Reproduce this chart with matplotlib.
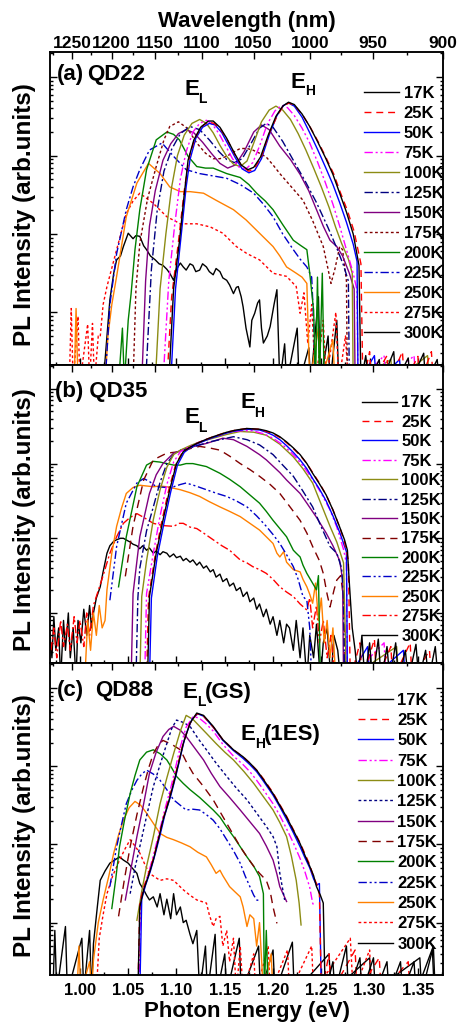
import numpy as np
import matplotlib
matplotlib.use("Agg")
import matplotlib.pyplot as plt
from matplotlib.ticker import MultipleLocator, LogLocator, NullFormatter

plt.rcParams["font.family"] = ["Liberation Sans", "DejaVu Sans"]
plt.rcParams["font.weight"] = "bold"

# temperatures (legend order) and their colours
temps = ["17K", "25K", "50K", "75K", "100K", "125K", "150K", "175K",
         "200K", "225K", "250K", "275K", "300K"]
colors = ["#000000", "#ff0000", "#0000ff", "#ff00ff", "#8c8c14", "#000080",
          "#800080", "#800000", "#008000", "#0000c8", "#ff8000", "#ff0000",
          "#000000"]

# spectra: (photon energy eV, log10 PL intensity)
qd22_spectra = [
    # 17K
    [(1.092, -0.9), (1.097, 0.3), (1.103, 0.9), (1.108, 1.5), (1.112, 1.94), (1.118, 2.2), (1.125, 2.36),
     (1.133, 2.44), (1.138, 2.44), (1.145, 2.36), (1.152, 2.22), (1.160, 2.03), (1.167, 1.88), (1.174, 1.82),
     (1.180, 1.85), (1.187, 1.98), (1.195, 2.26), (1.203, 2.50), (1.210, 2.63), (1.216, 2.68), (1.222, 2.65),
     (1.230, 2.53), (1.238, 2.37), (1.246, 2.18), (1.254, 1.98), (1.262, 1.76), (1.269, 1.52), (1.276, 1.28),
     (1.283, 1.0), (1.289, 0.6), (1.291, -0.9), (1.296, -0.55), (1.299, -0.9), (1.310, -0.6), (1.312, -0.9),
     (1.325, -0.5), (1.327, -0.9), (1.340, -0.58), (1.342, -0.9), (1.356, -0.52), (1.358, -0.9),
     (1.370, -0.6), (1.372, -0.9)],
    # 25K
    [(1.090, -0.9), (1.095, 0.2), (1.102, 0.9), (1.108, 1.55), (1.113, 1.97), (1.119, 2.22), (1.126, 2.37),
     (1.133, 2.43), (1.139, 2.41), (1.146, 2.33), (1.153, 2.19), (1.161, 2.0), (1.168, 1.86), (1.175, 1.80),
     (1.181, 1.84), (1.188, 1.99), (1.196, 2.28), (1.204, 2.50), (1.211, 2.64), (1.217, 2.67), (1.223, 2.63),
     (1.231, 2.51), (1.239, 2.35), (1.247, 2.17), (1.255, 1.97), (1.263, 1.76), (1.270, 1.52), (1.277, 1.3),
     (1.284, 1.03), (1.291, 0.62), (1.293, -0.9), (1.300, -0.5), (1.302, -0.9), (1.318, -0.55), (1.320, -0.9),
     (1.334, -0.5), (1.336, -0.9), (1.350, -0.56), (1.352, -0.9), (1.364, -0.5), (1.366, -0.9)],
    # 50K
    [(1.094, -0.9), (1.099, 0.3), (1.105, 1.0), (1.110, 1.6), (1.114, 1.95), (1.120, 2.22), (1.127, 2.36),
     (1.134, 2.41), (1.140, 2.39), (1.147, 2.29), (1.154, 2.13), (1.161, 1.97), (1.168, 1.83), (1.175, 1.78),
     (1.181, 1.81), (1.188, 1.96), (1.196, 2.26), (1.204, 2.51), (1.211, 2.64), (1.216, 2.67), (1.222, 2.63),
     (1.230, 2.49), (1.238, 2.29), (1.246, 2.08), (1.254, 1.86), (1.262, 1.63), (1.269, 1.40), (1.276, 1.15),
     (1.283, 0.87), (1.287, 0.65), (1.288, -0.9), (1.305, -0.55), (1.307, -0.9), (1.331, -0.6), (1.333, -0.9)],
    # 75K
    [(1.086, -0.9), (1.092, 0.4), (1.098, 1.1), (1.104, 1.7), (1.110, 2.05), (1.117, 2.3), (1.124, 2.41),
     (1.131, 2.45), (1.137, 2.40), (1.144, 2.28), (1.151, 2.12), (1.158, 1.96), (1.165, 1.85), (1.172, 1.83),
     (1.179, 1.91), (1.186, 2.12), (1.194, 2.40), (1.202, 2.57), (1.209, 2.64), (1.215, 2.61), (1.222, 2.51),
     (1.230, 2.35), (1.238, 2.16), (1.246, 1.92), (1.254, 1.66), (1.262, 1.38), (1.269, 1.1), (1.276, 0.8),
     (1.283, 0.5), (1.287, 0.28), (1.288, -0.9), (1.315, -0.55), (1.317, -0.9), (1.346, -0.55), (1.348, -0.9)],
    # 100K
    [(1.078, -0.9), (1.083, 0.3), (1.089, 1.0), (1.095, 1.6), (1.101, 2.0), (1.108, 2.26), (1.116, 2.41),
     (1.124, 2.46), (1.131, 2.41), (1.138, 2.29), (1.145, 2.13), (1.152, 1.99), (1.159, 1.89), (1.166, 1.86),
     (1.173, 1.93), (1.180, 2.16), (1.188, 2.43), (1.196, 2.58), (1.203, 2.63), (1.210, 2.58), (1.218, 2.46),
     (1.226, 2.28), (1.234, 2.07), (1.242, 1.84), (1.250, 1.6), (1.258, 1.34), (1.265, 1.08), (1.271, 0.88),
     (1.278, 0.68), (1.282, 0.5), (1.283, -0.9), (1.322, -0.6), (1.324, -0.9), (1.360, -0.55), (1.362, -0.9)],
    # 125K
    [(1.068, -0.9), (1.074, 0.55), (1.080, 1.3), (1.087, 1.8), (1.095, 2.08), (1.104, 2.28), (1.114, 2.37),
     (1.124, 2.33), (1.134, 2.2), (1.144, 2.05), (1.152, 1.95), (1.160, 1.91), (1.168, 1.96), (1.177, 2.15),
     (1.186, 2.35), (1.193, 2.41), (1.200, 2.36), (1.210, 2.18), (1.221, 1.94), (1.233, 1.68), (1.245, 1.40),
     (1.257, 1.08), (1.266, 0.82), (1.273, 0.6), (1.278, 0.4), (1.279, -0.9)],
    # 150K
    [(1.064, -0.9), (1.068, 0.4), (1.072, 1.1), (1.078, 1.55), (1.086, 1.94), (1.094, 2.15), (1.102, 2.28),
     (1.110, 2.33), (1.118, 2.29), (1.127, 2.17), (1.136, 2.03), (1.145, 1.9), (1.153, 1.84), (1.161, 1.88),
     (1.170, 2.05), (1.180, 2.3), (1.188, 2.39), (1.196, 2.33), (1.207, 2.12), (1.218, 1.95), (1.228, 1.76),
     (1.237, 1.55), (1.245, 1.31), (1.252, 1.1), (1.259, 0.92), (1.266, 0.84), (1.272, 0.72), (1.279, 0.5),
     (1.284, 0.3), (1.285, -0.9)],
    # 175K
    [(1.055, -0.9), (1.058, 0.3), (1.062, 0.88), (1.070, 1.45), (1.079, 1.86), (1.087, 2.2), (1.093, 2.37),
     (1.102, 2.43), (1.111, 2.35), (1.121, 2.16), (1.130, 2.03), (1.138, 1.96), (1.145, 1.96), (1.152, 1.99),
     (1.160, 2.05), (1.166, 2.09), (1.173, 2.09), (1.179, 2.07), (1.186, 2.03), (1.193, 1.98), (1.200, 1.88),
     (1.207, 1.77), (1.219, 1.6), (1.231, 1.43), (1.241, 1.17), (1.252, 0.84), (1.257, 0.55), (1.260, 0.37),
     (1.264, 0.55), (1.269, 0.84), (1.272, 0.8), (1.276, 0.4), (1.277, -0.9)],
    # 200K
    [(1.040, -0.9), (1.044, -0.2), (1.046, -0.9), (1.050, -0.1), (1.053, 0.24), (1.057, 0.8), (1.062, 1.31),
     (1.069, 1.82), (1.079, 2.2), (1.090, 2.30), (1.097, 2.27), (1.103, 2.2), (1.112, 1.99), (1.121, 1.86),
     (1.130, 1.84), (1.138, 1.84), (1.152, 1.77), (1.166, 1.72), (1.175, 1.63), (1.183, 1.52), (1.192, 1.42),
     (1.200, 1.31), (1.210, 1.12), (1.221, 0.92), (1.229, 0.85), (1.235, 0.80), (1.238, 0.5), (1.242, 0.03),
     (1.244, -0.9), (1.246, 0.45), (1.248, -0.9), (1.251, 0.5), (1.253, -0.9)],
    # 225K
    [(1.026, -0.9), (1.031, 0.1), (1.038, 0.75), (1.048, 1.31), (1.055, 1.6), (1.062, 1.82), (1.072, 2.07),
     (1.085, 2.16), (1.097, 1.99), (1.110, 1.82), (1.124, 1.77), (1.138, 1.74), (1.152, 1.71), (1.166, 1.63),
     (1.180, 1.52), (1.190, 1.38), (1.200, 1.22), (1.210, 1.0), (1.221, 0.8), (1.228, 0.68), (1.235, 0.58),
     (1.240, 0.45), (1.242, -0.1), (1.244, -0.9)],
    # 250K
    [(0.994, -0.9), (0.996, 0.05), (0.998, -0.9), (1.026, -0.9), (1.029, -0.3), (1.033, 0.1), (1.038, 0.46),
     (1.048, 1.22), (1.059, 1.65), (1.071, 1.9), (1.083, 1.77), (1.093, 1.60), (1.104, 1.54), (1.114, 1.54),
     (1.128, 1.52), (1.141, 1.43), (1.159, 1.31), (1.172, 1.18), (1.186, 1.01), (1.200, 0.84), (1.207, 0.72),
     (1.214, 0.58), (1.224, 0.50), (1.230, 0.45), (1.235, 0.37), (1.238, -0.9), (1.247, -0.2), (1.249, -0.9),
     (1.262, -0.35), (1.264, -0.9)],
    # 275K
    [(0.989, -0.9), (0.991, 0.05), (0.993, -0.9), (0.998, -0.05), (1.000, -0.9), (1.008, -0.15), (1.010, -0.9),
     (1.013, -0.14), (1.015, -0.9), (1.019, -0.3), (1.021, -0.31), (1.024, 0.1), (1.028, 0.33), (1.038, 0.8),
     (1.048, 1.26), (1.055, 1.42), (1.062, 1.52), (1.076, 1.39), (1.090, 1.22), (1.104, 1.13), (1.121, 1.13),
     (1.135, 1.09), (1.148, 1.01), (1.162, 0.84), (1.173, 0.75), (1.186, 0.67), (1.200, 0.5), (1.214, 0.46),
     (1.224, 0.33), (1.228, -0.01), (1.232, 0.25), (1.236, -0.4), (1.240, 0.1), (1.244, -0.9), (1.252, -0.1),
     (1.255, -0.9), (1.265, 0.0), (1.268, -0.9), (1.275, -0.3), (1.278, -0.9)],
    # 300K
    [(1.024, -0.9), (1.026, -0.61), (1.031, 0.16), (1.035, 0.5), (1.038, 0.67), (1.042, 0.72), (1.045, 0.84),
     (1.050, 1.01), (1.055, 0.94), (1.058, 0.98), (1.062, 0.97), (1.066, 0.85), (1.069, 0.8), (1.073, 0.72),
     (1.078, 0.67), (1.082, 0.62), (1.086, 0.6), (1.090, 0.55), (1.093, 0.5), (1.097, 0.41), (1.100, 0.55),
     (1.104, 0.63), (1.107, 0.58), (1.110, 0.54), (1.114, 0.62), (1.117, 0.6), (1.120, 0.52), (1.124, 0.54),
     (1.127, 0.62), (1.131, 0.58), (1.134, 0.52), (1.138, 0.48), (1.141, 0.56), (1.145, 0.52), (1.148, 0.44),
     (1.152, 0.41), (1.155, 0.35), (1.159, 0.24), (1.162, 0.32), (1.164, 0.33), (1.167, 0.2), (1.169, 0.07),
     (1.172, -0.2), (1.176, -0.44), (1.178, -0.1), (1.181, -0.01), (1.184, 0.12), (1.186, 0.16), (1.188, -0.2),
     (1.190, -0.39), (1.194, -0.3), (1.197, -0.18), (1.201, 0.1), (1.204, 0.29), (1.207, -0.9), (1.212, -0.4),
     (1.214, -0.9), (1.225, -0.2), (1.227, -0.9), (1.237, -0.45), (1.239, -0.9), (1.247, 0.2), (1.249, -0.9),
     (1.257, -0.3), (1.259, -0.9), (1.266, -0.1), (1.268, -0.9)],
]

qd35_spectra = [
    # 17K
    [(1.070, -0.9), (1.072, 0.22), (1.079, 0.80), (1.086, 1.24), (1.093, 1.65), (1.100, 2.0), (1.107, 2.16),
     (1.114, 2.22), (1.121, 2.27), (1.130, 2.32), (1.138, 2.36), (1.145, 2.39), (1.152, 2.42), (1.162, 2.45),
     (1.173, 2.47), (1.186, 2.46), (1.193, 2.44), (1.200, 2.41), (1.207, 2.36), (1.214, 2.29), (1.221, 2.21),
     (1.228, 2.12), (1.235, 2.0), (1.241, 1.87), (1.248, 1.73), (1.255, 1.58), (1.262, 1.38), (1.269, 1.15),
     (1.274, 0.98), (1.277, 0.84), (1.279, 0.4), (1.282, -0.2), (1.285, -0.5), (1.288, -0.9), (1.292, -0.3),
     (1.295, -0.9), (1.300, -0.4), (1.303, -0.9), (1.309, -0.35), (1.312, -0.9), (1.318, -0.45), (1.321, -0.9),
     (1.327, -0.4), (1.330, -0.9), (1.337, -0.5), (1.340, -0.9), (1.348, -0.42), (1.351, -0.9), (1.358, -0.5),
     (1.361, -0.9), (1.368, -0.45), (1.371, -0.9)],
    # 25K
    [(1.069, -0.9), (1.071, 0.2), (1.078, 0.78), (1.085, 1.24), (1.092, 1.65), (1.099, 1.98), (1.106, 2.15),
     (1.114, 2.22), (1.121, 2.27), (1.130, 2.32), (1.138, 2.36), (1.145, 2.39), (1.152, 2.42), (1.162, 2.45),
     (1.173, 2.47), (1.186, 2.46), (1.193, 2.43), (1.200, 2.40), (1.207, 2.35), (1.214, 2.28), (1.221, 2.20),
     (1.228, 2.11), (1.235, 2.0), (1.241, 1.88), (1.248, 1.74), (1.255, 1.58), (1.262, 1.38), (1.269, 1.15),
     (1.274, 0.95), (1.278, 0.7), (1.280, -0.9), (1.290, -0.4), (1.292, -0.9), (1.305, -0.35), (1.307, -0.9),
     (1.322, -0.45), (1.324, -0.9), (1.342, -0.4), (1.344, -0.9), (1.362, -0.5), (1.364, -0.9)],
    # 50K
    [(1.072, -0.9), (1.074, 0.2), (1.080, 0.75), (1.087, 1.2), (1.094, 1.62), (1.101, 1.98), (1.108, 2.15),
     (1.114, 2.21), (1.121, 2.26), (1.130, 2.31), (1.138, 2.35), (1.145, 2.38), (1.152, 2.41), (1.162, 2.44),
     (1.173, 2.46), (1.186, 2.45), (1.193, 2.42), (1.200, 2.38), (1.207, 2.32), (1.214, 2.24), (1.221, 2.15),
     (1.228, 2.05), (1.235, 1.93), (1.241, 1.8), (1.248, 1.66), (1.255, 1.5), (1.262, 1.3), (1.269, 1.08),
     (1.276, 0.82), (1.277, -0.9), (1.298, -0.45), (1.300, -0.9), (1.335, -0.5), (1.337, -0.9)],
    # 75K
    [(1.067, -0.9), (1.069, 0.26), (1.076, 0.8), (1.083, 1.3), (1.090, 1.72), (1.097, 2.02), (1.104, 2.16),
     (1.114, 2.23), (1.124, 2.29), (1.134, 2.34), (1.145, 2.38), (1.155, 2.42), (1.166, 2.44), (1.179, 2.44),
     (1.190, 2.40), (1.200, 2.34), (1.210, 2.25), (1.221, 2.12), (1.231, 1.97), (1.241, 1.79), (1.250, 1.6),
     (1.259, 1.38), (1.266, 1.15), (1.273, 0.85), (1.276, 0.66), (1.277, -0.9), (1.315, -0.4), (1.317, -0.9)],
    # 100K
    [(1.062, -0.9), (1.064, 0.22), (1.069, 0.7), (1.076, 1.25), (1.083, 1.65), (1.090, 1.95), (1.097, 2.12),
     (1.104, 2.18), (1.114, 2.24), (1.124, 2.29), (1.138, 2.34), (1.152, 2.39), (1.166, 2.43), (1.180, 2.42),
     (1.193, 2.38), (1.207, 2.26), (1.221, 2.09), (1.231, 1.93), (1.241, 1.74), (1.250, 1.45), (1.259, 1.16),
     (1.266, 0.95), (1.273, 0.67), (1.276, -0.9), (1.328, -0.45), (1.330, -0.9)],
    # 125K
    [(1.058, -0.9), (1.060, 0.2), (1.062, 0.6), (1.069, 1.1), (1.076, 1.42), (1.083, 1.75), (1.090, 2.0),
     (1.097, 2.12), (1.104, 2.18), (1.114, 2.21), (1.124, 2.25), (1.134, 2.29), (1.145, 2.32), (1.159, 2.36),
     (1.173, 2.32), (1.186, 2.25), (1.200, 2.12), (1.210, 1.98), (1.221, 1.83), (1.231, 1.63), (1.241, 1.42),
     (1.250, 1.15), (1.259, 0.89), (1.266, 0.8), (1.271, 0.6), (1.273, 0.2), (1.274, -0.9)],
    # 150K
    [(1.053, -0.9), (1.055, 0.26), (1.062, 1.02), (1.072, 1.6), (1.079, 1.85), (1.086, 2.0), (1.097, 2.14),
     (1.110, 2.2), (1.121, 2.24), (1.131, 2.27), (1.148, 2.34), (1.159, 2.32), (1.173, 2.23), (1.186, 2.12),
     (1.193, 2.05), (1.207, 1.88), (1.214, 1.78), (1.228, 1.6), (1.235, 1.47), (1.245, 1.28), (1.255, 1.07),
     (1.262, 0.9), (1.269, 0.7), (1.272, 0.45), (1.273, -0.9)],
    # 175K
    [(1.047, 0.49), (1.055, 1.16), (1.066, 1.78), (1.076, 2.05), (1.090, 2.14), (1.104, 2.16), (1.114, 2.2),
     (1.124, 2.23), (1.134, 2.21), (1.145, 2.18), (1.155, 2.1), (1.166, 2.0), (1.176, 1.92), (1.186, 1.83),
     (1.197, 1.72), (1.207, 1.6), (1.217, 1.43), (1.228, 1.24), (1.235, 1.07), (1.241, 0.89), (1.248, 0.7),
     (1.252, 0.53), (1.256, 0.25), (1.259, 0.08), (1.263, 0.3), (1.266, 0.44), (1.270, 0.5), (1.273, 0.2),
     (1.275, -0.9)],
    # 200K
    [(1.040, 0.35), (1.048, 1.02), (1.059, 1.69), (1.069, 1.98), (1.076, 2.03), (1.083, 2.02), (1.090, 2.0),
     (1.097, 1.98), (1.104, 1.98), (1.110, 2.0), (1.117, 2.0), (1.124, 1.98), (1.131, 1.96), (1.145, 1.87),
     (1.155, 1.79), (1.166, 1.69), (1.176, 1.58), (1.186, 1.47), (1.193, 1.36), (1.200, 1.24), (1.207, 1.13),
     (1.214, 1.02), (1.221, 0.84), (1.224, 0.8), (1.228, 0.75), (1.231, 0.64), (1.235, 0.53), (1.240, 0.42),
     (1.245, 0.31), (1.247, 0.5), (1.249, -0.9)],
    # 225K
    [(1.031, 0.17), (1.038, 0.89), (1.048, 1.47), (1.059, 1.74), (1.066, 1.8), (1.072, 1.76), (1.079, 1.69),
     (1.090, 1.68), (1.097, 1.69), (1.104, 1.72), (1.110, 1.74), (1.120, 1.70), (1.131, 1.65), (1.142, 1.6),
     (1.152, 1.56), (1.162, 1.5), (1.173, 1.42), (1.183, 1.3), (1.193, 1.16), (1.200, 1.05), (1.207, 0.93),
     (1.214, 0.78), (1.221, 0.62), (1.226, 0.45), (1.231, 0.22), (1.235, 0.17), (1.238, -0.2), (1.240, -0.9)],
    # 250K
    [(1.005, -0.9), (1.008, -0.1), (1.011, -0.5), (1.014, 0.0), (1.017, -0.3), (1.020, 0.1), (1.023, -0.2),
     (1.026, -0.1), (1.028, 0.31), (1.033, 0.8), (1.038, 1.16), (1.043, 1.4), (1.048, 1.6), (1.055, 1.68),
     (1.062, 1.71), (1.069, 1.7), (1.076, 1.69), (1.083, 1.7), (1.090, 1.69), (1.097, 1.67), (1.104, 1.65),
     (1.114, 1.61), (1.124, 1.56), (1.134, 1.49), (1.145, 1.42), (1.155, 1.36), (1.166, 1.29), (1.176, 1.2),
     (1.186, 1.11), (1.193, 1.02), (1.200, 0.93), (1.204, 0.8), (1.207, 0.75), (1.211, 0.82), (1.214, 0.68),
     (1.221, 0.58), (1.228, 0.55), (1.231, 0.45), (1.235, 0.35), (1.238, 0.25), (1.241, 0.13), (1.244, 0.4),
     (1.247, -0.1), (1.250, 0.2), (1.253, -0.4), (1.256, -0.1), (1.259, -0.6), (1.262, -0.2), (1.265, -0.9)],
    # 275K
    [(0.970, -0.5), (0.973, -0.2), (0.976, -0.6), (0.980, -0.1), (0.983, -0.45), (0.987, -0.15), (0.990, -0.5),
     (0.994, -0.05), (0.997, -0.4), (1.000, -0.1), (1.004, -0.45), (1.007, 0.0), (1.010, -0.3), (1.014, 0.1),
     (1.017, 0.22), (1.024, 0.5), (1.031, 0.8), (1.038, 1.02), (1.045, 1.2), (1.052, 1.28), (1.059, 1.33),
     (1.066, 1.28), (1.076, 1.2), (1.086, 1.17), (1.097, 1.16), (1.103, 1.2), (1.107, 1.2), (1.114, 1.15),
     (1.121, 1.13), (1.128, 1.07), (1.138, 0.98), (1.147, 0.9), (1.155, 0.84), (1.160, 0.78), (1.166, 0.71),
     (1.173, 0.67), (1.179, 0.62), (1.186, 0.58), (1.193, 0.53), (1.200, 0.45), (1.207, 0.35), (1.214, 0.28),
     (1.221, 0.22), (1.228, 0.12), (1.235, 0.04), (1.238, 0.2), (1.241, -0.2), (1.245, 0.1), (1.248, -0.4),
     (1.252, -0.1), (1.256, -0.6), (1.260, -0.3), (1.264, -0.9)],
    # 300K
    [(0.969, -0.3), (0.971, -0.6), (0.973, -0.05), (0.975, -0.5), (0.978, -0.2), (0.980, -0.9), (0.983, -0.1),
     (0.985, -0.5), (0.988, 0.0), (0.990, -0.6), (0.993, -0.2), (0.996, -0.9), (0.998, -0.1), (1.001, -0.4),
     (1.004, 0.05), (1.007, -0.3), (1.010, 0.1), (1.012, -0.2), (1.014, 0.0), (1.017, 0.2), (1.021, 0.35),
     (1.024, 0.55), (1.028, 0.8), (1.031, 0.9), (1.035, 0.96), (1.038, 0.98), (1.042, 1.0), (1.045, 1.0),
     (1.049, 0.97), (1.052, 0.95), (1.055, 0.92), (1.059, 0.9), (1.062, 0.86), (1.065, 0.9), (1.069, 0.84),
     (1.072, 0.87), (1.076, 0.8), (1.079, 0.83), (1.083, 0.78), (1.086, 0.82), (1.090, 0.8), (1.093, 0.75),
     (1.097, 0.79), (1.100, 0.74), (1.104, 0.76), (1.107, 0.7), (1.110, 0.73), (1.114, 0.68), (1.117, 0.71),
     (1.121, 0.64), (1.124, 0.68), (1.128, 0.6), (1.131, 0.63), (1.135, 0.55), (1.138, 0.58), (1.141, 0.48),
     (1.145, 0.52), (1.148, 0.42), (1.152, 0.46), (1.155, 0.36), (1.159, 0.4), (1.162, 0.3), (1.166, 0.34),
     (1.169, 0.22), (1.173, 0.28), (1.176, 0.15), (1.180, 0.2), (1.183, 0.05), (1.186, 0.12), (1.190, -0.05),
     (1.193, 0.05), (1.197, -0.15), (1.200, -0.05), (1.204, -0.3), (1.207, -0.1), (1.211, -0.4), (1.214, -0.15),
     (1.217, -0.2), (1.221, -0.5), (1.224, -0.1), (1.228, -0.6), (1.231, -0.2), (1.235, -0.9), (1.238, -0.3),
     (1.242, -0.6), (1.245, -0.15), (1.249, -0.9), (1.252, -0.4), (1.256, -0.2), (1.260, -0.9), (1.263, -0.3),
     (1.267, -0.5), (1.270, -0.9)],
]

qd88_spectra = [
    # 17K
    [(1.060, -0.9), (1.062, 0.2), (1.066, 0.42), (1.071, 0.6), (1.076, 0.8), (1.081, 1.05), (1.086, 1.31),
     (1.092, 1.55), (1.097, 1.78), (1.102, 2.03), (1.107, 2.29), (1.114, 2.55), (1.121, 2.68), (1.128, 2.65),
     (1.133, 2.58), (1.138, 2.51), (1.148, 2.34), (1.159, 2.21), (1.169, 2.12), (1.176, 2.04), (1.183, 1.95),
     (1.190, 1.83), (1.200, 1.65), (1.207, 1.5), (1.214, 1.35), (1.221, 1.18), (1.228, 1.01), (1.233, 0.86),
     (1.238, 0.72), (1.242, 0.6), (1.245, 0.46), (1.249, 0.35), (1.252, 0.25), (1.254, -0.9), (1.262, -0.5),
     (1.264, -0.9), (1.276, -0.3), (1.278, -0.9), (1.290, -0.45), (1.292, -0.9), (1.304, -0.45), (1.306, -0.9),
     (1.318, -0.5), (1.320, -0.9), (1.332, -0.5), (1.334, -0.9), (1.346, -0.5), (1.348, -0.9), (1.366, -0.3),
     (1.368, -0.9)],
    # 25K
    [(1.060, -0.9), (1.062, 0.25), (1.066, 0.45), (1.071, 0.62), (1.076, 0.82), (1.081, 1.06), (1.086, 1.32),
     (1.092, 1.57), (1.097, 1.8), (1.102, 2.05), (1.107, 2.3), (1.114, 2.55), (1.121, 2.67), (1.128, 2.64),
     (1.133, 2.57), (1.138, 2.5), (1.148, 2.34), (1.159, 2.21), (1.169, 2.12), (1.176, 2.04), (1.183, 1.95),
     (1.190, 1.84), (1.200, 1.66), (1.207, 1.51), (1.214, 1.36), (1.221, 1.19), (1.228, 1.02), (1.233, 0.88),
     (1.238, 0.74), (1.242, 0.58), (1.245, 0.5), (1.248, 0.36), (1.250, -0.9), (1.258, -0.4), (1.260, -0.9),
     (1.285, -0.35), (1.287, -0.9), (1.310, -0.45), (1.312, -0.9), (1.340, -0.5), (1.342, -0.9)],
    # 50K
    [(1.062, -0.9), (1.064, 0.3), (1.068, 0.48), (1.073, 0.66), (1.078, 0.88), (1.083, 1.12), (1.088, 1.38),
     (1.094, 1.62), (1.099, 1.86), (1.104, 2.12), (1.109, 2.38), (1.116, 2.6), (1.122, 2.67), (1.128, 2.64),
     (1.133, 2.57), (1.138, 2.5), (1.148, 2.33), (1.159, 2.2), (1.169, 2.1), (1.176, 2.02), (1.183, 1.93),
     (1.190, 1.81), (1.200, 1.63), (1.207, 1.48), (1.214, 1.32), (1.221, 1.15), (1.228, 0.97), (1.233, 0.83),
     (1.238, 0.7), (1.242, 0.56), (1.245, 0.48), (1.248, 0.5), (1.250, -0.9)],
    # 75K
    [(1.061, -0.9), (1.063, 0.3), (1.068, 0.52), (1.073, 0.72), (1.078, 0.95), (1.083, 1.2), (1.088, 1.45),
     (1.094, 1.72), (1.099, 1.98), (1.104, 2.25), (1.110, 2.5), (1.117, 2.63), (1.123, 2.62), (1.130, 2.55),
     (1.138, 2.45), (1.148, 2.28), (1.159, 2.13), (1.169, 2.02), (1.176, 1.93), (1.183, 1.82), (1.190, 1.7),
     (1.200, 1.52), (1.207, 1.37), (1.214, 1.2), (1.221, 1.02), (1.228, 0.82), (1.233, 0.65), (1.238, 0.45),
     (1.241, 0.25), (1.243, 0.2)],
    # 100K
    [(1.059, 0.03), (1.064, 0.4), (1.069, 0.72), (1.076, 1.1), (1.083, 1.52), (1.090, 1.85), (1.097, 2.16),
     (1.104, 2.45), (1.110, 2.65), (1.117, 2.6), (1.124, 2.51), (1.131, 2.42), (1.141, 2.29), (1.150, 2.18),
     (1.159, 2.08), (1.170, 1.93), (1.180, 1.78), (1.190, 1.61), (1.200, 1.44), (1.207, 1.28), (1.214, 1.1),
     (1.219, 0.85), (1.224, 0.54), (1.227, 0.25), (1.229, -0.03)],
    # 125K
    [(1.052, 0.37), (1.057, 0.7), (1.062, 0.97), (1.069, 1.36), (1.076, 1.74), (1.083, 2.02), (1.090, 2.29),
     (1.095, 2.48), (1.100, 2.59), (1.107, 2.56), (1.114, 2.51), (1.122, 2.36), (1.131, 2.21), (1.141, 2.04),
     (1.152, 1.87), (1.162, 1.72), (1.173, 1.57), (1.183, 1.4), (1.193, 1.23), (1.200, 1.1), (1.204, 0.97),
     (1.207, 0.63), (1.212, 0.29)],
    # 150K
    [(1.047, 0.29), (1.053, 0.7), (1.059, 1.1), (1.066, 1.52), (1.072, 1.91), (1.079, 2.18), (1.086, 2.38),
     (1.092, 2.47), (1.097, 2.51), (1.104, 2.46), (1.110, 2.38), (1.119, 2.23), (1.128, 2.08), (1.136, 1.91),
     (1.145, 1.74), (1.155, 1.6), (1.166, 1.44), (1.176, 1.29), (1.186, 1.14), (1.193, 0.98), (1.200, 0.8),
     (1.204, 0.62), (1.207, 0.46), (1.214, 0.27)],
    # 175K
    [(1.040, 0.08), (1.046, 0.55), (1.052, 0.97), (1.059, 1.38), (1.066, 1.74), (1.071, 1.97), (1.076, 2.16),
     (1.081, 2.27), (1.086, 2.33), (1.095, 2.28), (1.104, 2.21), (1.110, 2.06), (1.117, 1.91), (1.128, 1.74),
     (1.138, 1.57), (1.145, 1.42), (1.152, 1.27), (1.159, 1.12), (1.166, 0.97), (1.173, 0.84), (1.180, 0.72),
     (1.186, 0.63), (1.193, 0.54), (1.197, 0.4), (1.200, 0.2), (1.204, -0.01)],
    # 200K
    [(1.033, 0.18), (1.037, 0.55), (1.041, 0.97), (1.046, 1.3), (1.052, 1.65), (1.057, 1.88), (1.062, 2.08),
     (1.069, 2.18), (1.076, 2.21), (1.083, 2.16), (1.090, 2.08), (1.095, 1.98), (1.100, 1.87), (1.107, 1.78),
     (1.114, 1.7), (1.124, 1.6), (1.131, 1.52), (1.138, 1.44), (1.145, 1.35), (1.152, 1.22), (1.159, 1.1),
     (1.166, 0.97), (1.173, 0.84), (1.180, 0.72), (1.186, 0.59), (1.190, 0.37), (1.191, -0.9), (1.193, -0.1),
     (1.195, -0.9)],
    # 225K
    [(1.031, 0.46), (1.038, 0.97), (1.043, 1.25), (1.048, 1.52), (1.054, 1.7), (1.059, 1.82), (1.064, 1.9),
     (1.069, 1.95), (1.076, 1.9), (1.083, 1.82), (1.090, 1.7), (1.097, 1.57), (1.104, 1.5), (1.110, 1.44),
     (1.117, 1.45), (1.124, 1.44), (1.131, 1.38), (1.138, 1.31), (1.145, 1.2), (1.152, 1.06), (1.159, 0.92),
     (1.166, 0.76), (1.171, 0.6), (1.176, 0.46), (1.180, 0.35), (1.183, 0.29), (1.186, 0.28)],
    # 250K
    [(0.997, -0.9), (0.999, -0.3), (1.001, -0.9), (1.010, -0.5), (1.012, -0.9), (1.014, -0.48), (1.019, 0.0),
     (1.024, 0.29), (1.030, 0.6), (1.035, 0.89), (1.040, 1.12), (1.045, 1.31), (1.051, 1.47), (1.057, 1.55),
     (1.063, 1.5), (1.069, 1.4), (1.076, 1.27), (1.083, 1.14), (1.090, 1.09), (1.097, 1.06), (1.105, 1.02),
     (1.114, 0.97), (1.122, 0.9), (1.131, 0.84), (1.136, 0.74), (1.141, 0.63), (1.145, 0.67), (1.148, 0.6),
     (1.155, 0.46), (1.160, 0.4), (1.166, 0.33), (1.169, 0.2), (1.173, -0.05), (1.176, 0.1), (1.180, 0.05),
     (1.183, -0.3), (1.186, 0.0), (1.190, -0.9), (1.198, -0.4), (1.200, -0.9)],
    # 275K
    [(1.017, -0.9), (1.020, -0.2), (1.024, 0.1), (1.028, 0.37), (1.034, 0.6), (1.041, 0.8), (1.047, 0.95),
     (1.052, 1.06), (1.057, 0.98), (1.062, 0.89), (1.067, 0.75), (1.072, 0.63), (1.078, 0.58), (1.083, 0.54),
     (1.090, 0.56), (1.097, 0.54), (1.102, 0.48), (1.107, 0.42), (1.114, 0.35), (1.121, 0.29), (1.126, 0.27),
     (1.131, 0.25), (1.134, 0.1), (1.138, -0.05), (1.141, 0.05), (1.145, 0.08), (1.148, -0.3), (1.152, -0.1),
     (1.155, -0.5), (1.159, -0.2), (1.162, -0.9), (1.166, -0.3), (1.169, -0.9), (1.180, -0.4), (1.182, -0.9),
     (1.195, -0.3), (1.197, -0.9), (1.215, -0.35), (1.217, -0.9), (1.240, -0.3), (1.242, -0.9), (1.280, -0.2),
     (1.283, -0.9), (1.300, -0.35), (1.302, -0.9)],
    # 300K
    [(0.972, -0.9), (0.974, -0.1), (0.976, -0.9), (0.985, -0.05), (0.987, -0.9), (1.002, -0.2), (1.004, -0.9),
     (1.010, -0.1), (1.012, -0.9), (1.014, -0.27), (1.018, 0.2), (1.021, 0.54), (1.026, 0.66), (1.031, 0.76),
     (1.036, 0.8), (1.041, 0.84), (1.045, 0.8), (1.050, 0.76), (1.054, 0.7), (1.059, 0.63), (1.062, 0.5),
     (1.066, 0.42), (1.069, 0.35), (1.072, 0.29), (1.076, 0.33), (1.080, 0.2), (1.083, 0.37), (1.087, 0.1),
     (1.090, 0.3), (1.094, 0.05), (1.097, 0.37), (1.100, 0.1), (1.104, 0.2), (1.107, 0.0), (1.110, 0.03),
     (1.114, -0.15), (1.117, -0.27), (1.121, -0.1), (1.124, -0.9), (1.130, -0.3), (1.132, -0.9), (1.140, -0.15),
     (1.142, -0.9), (1.150, -0.4), (1.152, -0.9), (1.165, -0.2), (1.167, -0.9), (1.185, -0.3), (1.187, -0.9),
     (1.200, -0.35), (1.202, -0.9), (1.220, -0.25), (1.222, -0.9), (1.258, -0.4), (1.260, -0.9), (1.300, -0.45),
     (1.302, -0.9), (1.352, -0.45), (1.354, -0.9), (1.365, -0.35), (1.367, -0.9)],
]

wavelength_major = [1250, 1200, 1150, 1100, 1050, 1000, 950, 900]
wavelength_minor = [1275, 1225, 1175, 1125, 1075, 1025, 975, 925]

# line styles
solid = "-"
dashed = (0, (5, 3.5))
longdash = (0, (6, 4))
dotted = (0, (2, 1.8))
dashdot = (0, (6, 2, 1.5, 2))
dashdotdot = (0, (6, 2, 1.5, 2, 1.5, 2))

styles_a = [solid, dashed, solid, dashdotdot, solid, dashdot, solid, dotted,
            solid, dashdot, solid, dotted, solid]
styles_b = [solid, dashed, solid, dashdotdot, solid, dashdot, solid, longdash,
            solid, dashdotdot, solid, dashdot, solid]
styles_c = [solid, dashed, solid, dashdotdot, solid, dotted, solid, longdash,
            solid, dashdotdot, solid, dotted, solid]

HC = 1239.84
W, H = 458, 1026


def fig_xy(px, py):
    return px / W, 1 - py / H


def draw_panel(fig, rect, spectra, styles, legend_xy, spacing, top_labels, bottom_labels):
    ax = fig.add_axes(rect)
    lines = []
    for color, style, pts in reversed(list(zip(colors, styles, spectra))):
        e = [p[0] for p in pts]
        v = np.power(10.0, [p[1] for p in pts])
        (ln,) = ax.plot(e, v, color=color, linestyle=style, lw=1.0)
        lines.append(ln)
    lines = lines[::-1]

    ax.set_yscale("log")
    ax.set_ylim(10 ** -0.67, 10 ** 3.32)
    ax.set_xlim(0.969, 1.376)
    ax.xaxis.set_major_locator(MultipleLocator(0.05))
    ax.xaxis.set_minor_locator(MultipleLocator(0.025))
    ax.yaxis.set_major_locator(LogLocator(base=10))
    ax.yaxis.set_minor_locator(LogLocator(base=10, subs=np.arange(2, 10)))
    ax.yaxis.set_major_formatter(NullFormatter())
    ax.yaxis.set_minor_formatter(NullFormatter())
    ax.tick_params(which="both", direction="in", right=True, top=False, width=1)
    ax.tick_params(which="major", length=5)
    ax.tick_params(which="minor", length=2.5)
    ax.tick_params(axis="x", labelsize=12, pad=6, labelbottom=bottom_labels)
    for s in ax.spines.values():
        s.set_linewidth(1.1)
    ax.set_ylabel("PL Intensity (arb.units)", fontsize=17.5, fontweight="bold")
    ax.yaxis.set_label_coords(-0.036, 0.48)

    top = ax.twiny()
    top.set_xlim(ax.get_xlim())
    top.set_xticks([HC / w for w in wavelength_major])
    top.set_xticks([HC / w for w in wavelength_minor], minor=True)
    top.set_xticklabels([str(w) for w in wavelength_major] if top_labels else [])
    top.tick_params(which="both", direction="in", width=1, labelsize=12.5, pad=1)
    top.tick_params(which="major", length=5)
    top.tick_params(which="minor", length=2.5)
    for s in top.spines.values():
        s.set_linewidth(1.1)

    ax.legend(lines, temps, loc="upper left", bbox_to_anchor=legend_xy,
              frameon=False, borderpad=0, borderaxespad=0, handlelength=2.1,
              handletextpad=0.25, labelspacing=spacing,
              prop={"weight": "bold", "size": 12})
    return ax, top


def label(fig, px, py, text, size):
    x, y = fig_xy(px, py)
    fig.text(x, y, text, fontsize=size, fontweight="bold", ha="left", va="baseline")


fig = plt.figure(figsize=(4.58, 10.26), dpi=100)

left, width = 50 / W, 393 / W
ax_a, top_a = draw_panel(fig, [left, 1 - 365 / H, width, 313 / H], qd22_spectra, styles_a,
                         (0.80, 0.892), 0.30, True, False)
ax_b, _ = draw_panel(fig, [left, 1 - 663 / H, width, 298 / H], qd35_spectra, styles_b,
                     (0.794, 0.898), 0.266, False, False)
ax_c, _ = draw_panel(fig, [left, 1 - 975 / H, width, 312 / H], qd88_spectra, styles_c,
                     (0.784, 0.905), 0.32, False, True)

top_a.set_xlabel("Wavelength (nm)", fontsize=16, fontweight="bold", labelpad=6)
ax_c.set_xlabel("Photon Energy (eV)", fontsize=16, fontweight="bold", labelpad=2)

# panel captions and peak labels
label(fig, 57, 80, "(a)", 16)
label(fig, 87, 80, "QD22", 16)
label(fig, 185, 95, "E", 16)
label(fig, 198, 103, "L", 10)
label(fig, 290, 88, "E", 16)
label(fig, 305, 95, "H", 10)

label(fig, 55, 397, "(b) QD35", 16)
label(fig, 185, 423, "E", 16)
label(fig, 198, 432, "L", 10)
label(fig, 240, 408, "E", 16)
label(fig, 254, 417, "H", 10)

label(fig, 57, 696, "(c)", 16)
label(fig, 95, 696, "QD88", 16)
label(fig, 183, 698, "E", 16)
label(fig, 197, 706, "L", 10)
label(fig, 205, 698, "(GS)", 16)
label(fig, 240, 740, "E", 16)
label(fig, 255, 748, "H", 10)
label(fig, 264, 740, "(1ES)", 16)

fig.savefig("out.png", dpi=100)
